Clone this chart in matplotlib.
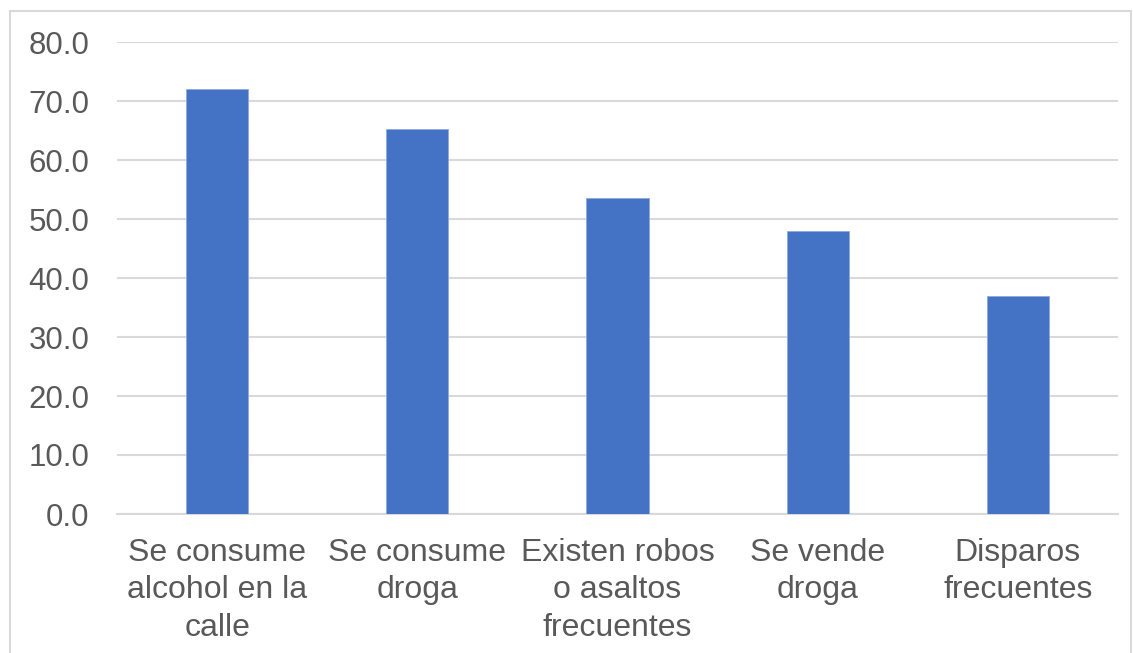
import matplotlib.pyplot as plt
from matplotlib.patches import Rectangle

# categories and percentages
categories = [
    "Se consume\nalcohol en la\ncalle",
    "Se consume\ndroga",
    "Existen robos\no asaltos\nfrecuentes",
    "Se vende\ndroga",
    "Disparos\nfrecuentes",
]
values = [72.0, 65.2, 53.5, 48.0, 37.0]
y_ticks = [0, 10, 20, 30, 40, 50, 60, 70, 80]

plt.rcParams['font.family'] = ['Liberation Sans', 'DejaVu Sans']

fig = plt.figure(figsize=(11.33, 6.53), dpi=100)
ax = fig.add_axes([117 / 1133, (653 - 514) / 653, (1118 - 117) / 1133, (514 - 42) / 653])

x = range(len(categories))
ax.bar(x, values, width=0.31, color='#4472c4', edgecolor='#8faadc', linewidth=0.6, zorder=3)

ax.set_xlim(-0.5, len(categories) - 0.5)
ax.set_ylim(0, 80)
ax.set_yticks(y_ticks)
ax.set_yticklabels([f"{v:.1f}" for v in y_ticks])
ax.set_xticks(list(x))
ax.set_xticklabels(categories, linespacing=1.34)

ax.yaxis.grid(True, color='#d9d9d9', linewidth=1.5, zorder=0)
for side in ['top', 'right', 'left']:
    ax.spines[side].set_visible(False)
ax.spines['bottom'].set_color('#d9d9d9')
ax.spines['bottom'].set_linewidth(1.5)

ax.tick_params(axis='y', length=0, pad=20, labelsize=22.5, labelcolor='#595959')
ax.tick_params(axis='x', length=0, pad=17, labelsize=23, labelcolor='#595959')

# outer chart border
fig.patches.append(Rectangle((10 / 1133, -0.05), (1131 - 10) / 1133, (653 - 11) / 653 + 0.05,
                             transform=fig.transFigure, fill=False,
                             edgecolor='#d9d9d9', linewidth=1.5))

fig.savefig("out.png", dpi=100)
